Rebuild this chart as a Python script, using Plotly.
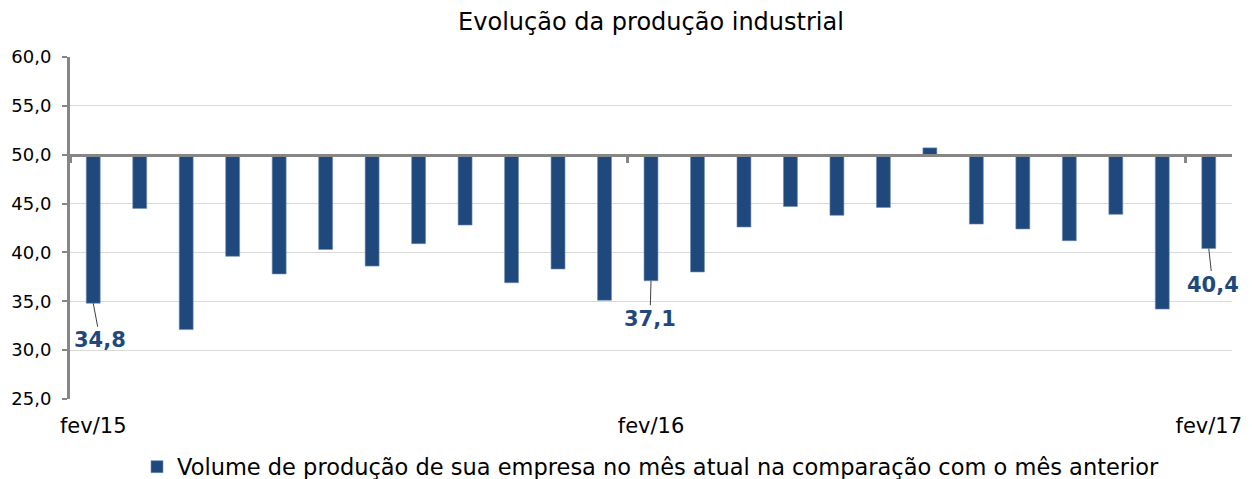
import plotly.graph_objects as go

months = ["fev/15", "mar/15", "abr/15", "mai/15", "jun/15", "jul/15", "ago/15", "set/15",
          "out/15", "nov/15", "dez/15", "jan/16", "fev/16", "mar/16", "abr/16", "mai/16",
          "jun/16", "jul/16", "ago/16", "set/16", "out/16", "nov/16", "dez/16", "jan/17",
          "fev/17"]
values = [34.8, 44.5, 32.1, 39.6, 37.8, 40.3, 38.6, 40.9, 42.8, 36.9, 38.3, 35.1, 37.1,
          38.0, 42.6, 44.7, 43.8, 44.6, 50.7, 42.9, 42.4, 41.2, 43.9, 34.2, 40.4]
baseline = 50
series_name = "Volume de produção de sua empresa no mês atual na comparação com o mês anterior"
tick_months = ["fev/15", "fev/16", "fev/17"]
labelled = {"fev/15": (7, 37), "fev/16": (-1, 38), "fev/17": (4, 36)}

bar_color = "#1f497d"
axis_grey = "#868686"

fig = go.Figure()
fig.add_trace(go.Bar(
    x=months, y=[v - baseline for v in values], base=baseline,
    marker=dict(color=bar_color, line=dict(color="#6f8db5", width=0.6)),
    width=0.3, name=series_name, showlegend=True,
))
# invisible helper trace so the baseline axis (x2) is drawn
fig.add_trace(go.Scatter(
    x=list(range(len(months))), y=values, xaxis="x2", mode="none",
    showlegend=False, hoverinfo="skip",
))

annotations = []
for m, (ax, ay) in labelled.items():
    v = values[months.index(m)]
    annotations.append(dict(
        x=m, y=v, xref="x", yref="y", text=f"{v:.1f}".replace(".", ","),
        showarrow=True, arrowhead=0, arrowwidth=1, arrowcolor="#404040",
        ax=ax, ay=ay, standoff=0,
        font=dict(family="DejaVu Sans", size=21, color=bar_color, weight="bold"),
    ))

fig.update_layout(
    width=1252, height=479,
    margin=dict(l=70, r=20, t=57, b=80),
    plot_bgcolor="white", paper_bgcolor="white",
    separators=",.",
    title=dict(text="Evolução da produção industrial", x=0.5, xref="paper",
               y=1 - 22 / 479, yanchor="middle",
               font=dict(family="DejaVu Sans", size=24, color="#000000")),
    showlegend=True,
    legend=dict(orientation="h", x=0.5, xanchor="center", xref="paper",
                yref="container", y=1 - 467 / 479, yanchor="middle",
                font=dict(family="DejaVu Sans", size=22.5, color="#000000"),
                itemwidth=30, tracegroupgap=0),
    annotations=annotations,
    xaxis=dict(type="category", range=[-0.5, len(months) - 0.5],
               tickvals=tick_months, ticktext=tick_months, automargin=False,
               showline=False, showgrid=False, ticks="", ticklabelstandoff=12,
               tickfont=dict(family="DejaVu Sans", size=21, color="#000000")),
    xaxis2=dict(overlaying="x", anchor="free", position=(baseline - 25) / 35,
                range=[-0.5, len(months) - 0.5], showgrid=False, zeroline=False,
                showline=True, linecolor=axis_grey, linewidth=3, automargin=False,
                ticks="outside", ticklen=6, tickwidth=3, tickcolor=axis_grey,
                tickvals=[-0.5, 11.5, 23.5], showticklabels=False),
    yaxis=dict(range=[25, 60], dtick=5, tick0=25, tickformat=".1f",
               showgrid=True, gridcolor="#d9d9d9", gridwidth=1,
               showline=True, linecolor=axis_grey, linewidth=3,
               ticks="outside", ticklen=5, tickwidth=2, tickcolor=axis_grey,
               zeroline=False, ticklabelstandoff=7, automargin=False,
               tickfont=dict(family="DejaVu Sans", size=18, color="#000000")),
)

fig.write_html("out.html", config={"displayModeBar": False},
               post_script="document.body.style.margin='0';")
